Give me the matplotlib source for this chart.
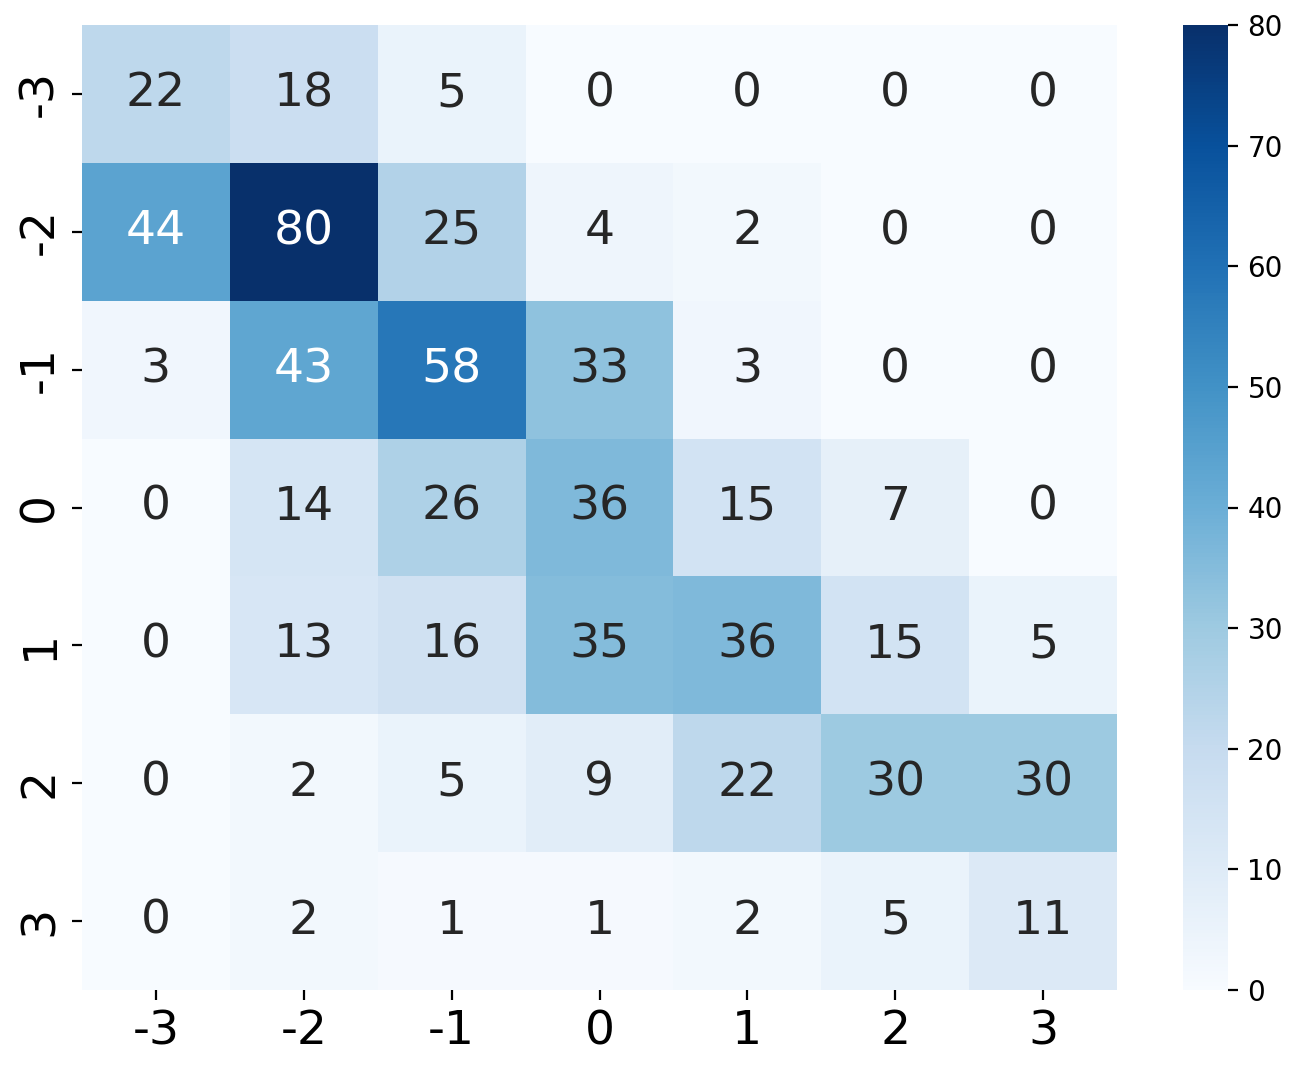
import numpy as np
import matplotlib
matplotlib.use("Agg")
import matplotlib.pyplot as plt
import seaborn as sns

labels = [-3, -2, -1, 0, 1, 2, 3]
counts = [
    [22, 18, 5, 0, 0, 0, 0],
    [44, 80, 25, 4, 2, 0, 0],
    [3, 43, 58, 33, 3, 0, 0],
    [0, 14, 26, 36, 15, 7, 0],
    [0, 13, 16, 35, 36, 15, 5],
    [0, 2, 5, 9, 22, 30, 30],
    [0, 2, 1, 1, 2, 5, 11],
]

fig = plt.figure(figsize=(6.51, 5.35), dpi=200)
ax = fig.add_axes([82 / 1302, 1 - 990 / 1070, (1117 - 82) / 1302, (990 - 25) / 1070])
cax = fig.add_axes([1183 / 1302, 1 - 990 / 1070, (1228 - 1183) / 1302, (990 - 25) / 1070])

sns.heatmap(np.array(counts), annot=True, fmt="d", cmap="Blues", ax=ax, cbar_ax=cax,
            xticklabels=labels, yticklabels=labels, vmin=0, vmax=80,
            annot_kws={"fontsize": 17})
ax.tick_params(axis="both", labelsize=17)
cax.tick_params(labelsize=10)
cax.set_yticks([0, 10, 20, 30, 40, 50, 60, 70, 80])

plt.savefig("out.png", dpi=200)
